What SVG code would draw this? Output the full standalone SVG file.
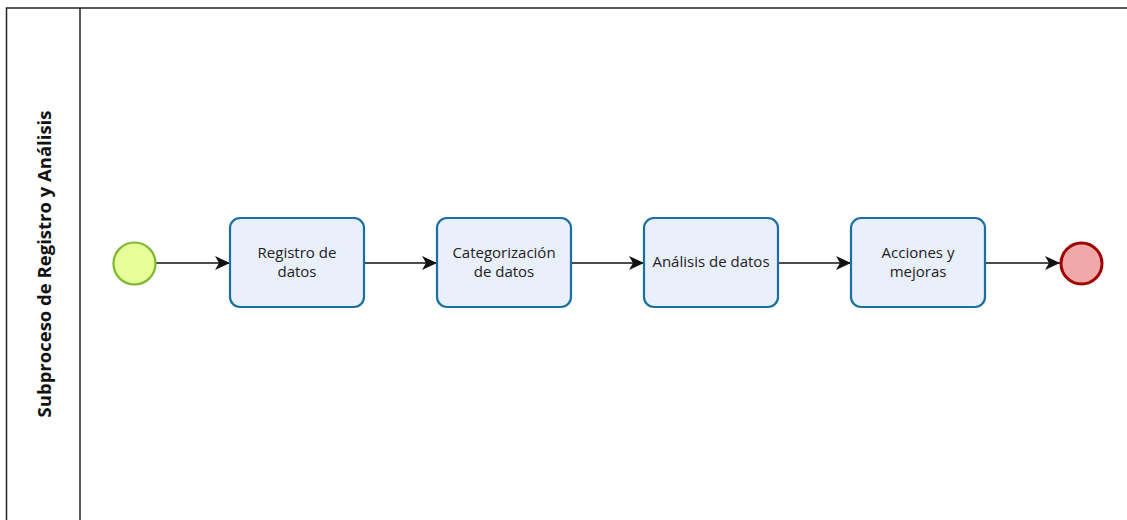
<svg xmlns="http://www.w3.org/2000/svg" width="1127" height="520" viewBox="0 0 1127 520">
<style>
.task{fill:#eaeffc;stroke:#1a6fa0;stroke-width:2.2}
.lbl{font-family:"Open Sans","Noto Sans",sans-serif;font-size:15px;fill:#222;text-anchor:middle}
.flow{stroke:#111;stroke-width:1.3;fill:none;marker-end:url(#arr)}
.pool{fill:none;stroke:#222;stroke-width:1.5}
</style>
<defs>
<marker id="arr" viewBox="0 0 15 14" refX="15" refY="7" markerWidth="15" markerHeight="14" markerUnits="userSpaceOnUse" orient="auto">
<path d="M0,0 L15,7 L0,14 L4,7 Z" fill="#111"/>
</marker>
</defs>
<rect width="1127" height="520" fill="#fff"/>
<g id="pool">
<path class="pool" d="M1130,8 L6.5,8 L6.5,522 M80,8 L80,522"/>
<text transform="translate(51,264) rotate(-90)" font-family="'Open Sans','Noto Sans',sans-serif" font-size="18.5" font-weight="bold" fill="#111" text-anchor="middle">Subproceso de Registro y Análisis</text>
</g>
<g id="connectors">
<line class="flow" x1="156" y1="263" x2="230" y2="263"/>
<line class="flow" x1="365" y1="263" x2="437" y2="263"/>
<line class="flow" x1="572" y1="263" x2="644" y2="263"/>
<line class="flow" x1="779" y1="263" x2="851" y2="263"/>
<line class="flow" x1="986" y1="263" x2="1060" y2="263"/>
</g>
<g id="start">
<circle cx="134.5" cy="263.5" r="21" fill="#e6ff99" stroke="#7cb82f" stroke-width="2.2"/>
</g>
<g id="t1">
<rect class="task" x="230" y="218" width="134" height="89" rx="10"/>
<text class="lbl" x="297" y="258">Registro de</text>
<text class="lbl" x="297" y="277">datos</text>
</g>
<g id="t2">
<rect class="task" x="437" y="218" width="134" height="89" rx="10"/>
<text class="lbl" x="504" y="258">Categorización</text>
<text class="lbl" x="504" y="277">de datos</text>
</g>
<g id="t3">
<rect class="task" x="644" y="218" width="134" height="89" rx="10"/>
<text class="lbl" x="711" y="267">Análisis de datos</text>
</g>
<g id="t4">
<rect class="task" x="851" y="218" width="134" height="89" rx="10"/>
<text class="lbl" x="918" y="258">Acciones y</text>
<text class="lbl" x="918" y="277">mejoras</text>
</g>
<g id="end">
<circle cx="1081.5" cy="263.5" r="20.5" fill="#f0a8a8" stroke="#a00000" stroke-width="3"/>
</g>
</svg>
